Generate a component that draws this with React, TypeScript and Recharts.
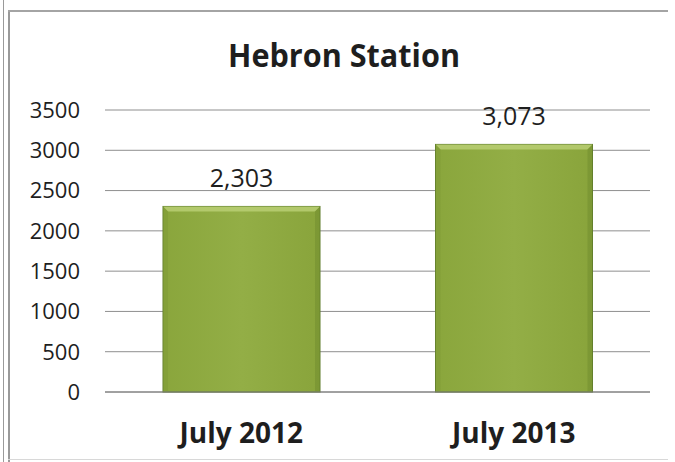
import { BarChart, Bar, XAxis, YAxis, CartesianGrid, LabelList, Customized } from "recharts";

const periods = ["July 2012", "July 2013"];
const riders = [2303, 3073];
const yTicks = [0, 500, 1000, 1500, 2000, 2500, 3000, 3500];
const chartTitle = "Hebron Station";

const data = periods.map((period, i) => ({ period, riders: riders[i] }));

const FONT = "'Open Sans', 'DejaVu Sans', sans-serif";

// bevelled olive bar, like the old Excel preset
const BevelBar = (props: any) => {
  const { x, y, width, height } = props;
  if (!height || height <= 0) return null;
  const b = 5;
  return (
    <g>
      <rect x={x} y={y} width={width} height={height} fill="url(#barFill)" stroke="#5f7d2b" strokeWidth={1} />
      <polygon
        points={`${x},${y} ${x + width},${y} ${x + width - b},${y + b} ${x + b},${y + b}`}
        fill="#bcd177"
        opacity={0.8}
      />
      <polygon
        points={`${x},${y} ${x + b},${y + b} ${x + b},${y + height} ${x},${y + height}`}
        fill="#7e9a36"
        opacity={0.5}
      />
      <polygon
        points={`${x + width},${y} ${x + width - b},${y + b} ${x + width - b},${y + height} ${x + width},${y + height}`}
        fill="#6f8b2e"
        opacity={0.5}
      />
    </g>
  );
};

const Title = () => (
  <text
    x={344}
    y={67}
    textAnchor="middle"
    fontFamily={FONT}
    fontWeight={700}
    fontSize={33}
    fill="#1e1e1e"
    textLength={232}
    lengthAdjust="spacingAndGlyphs"
  >
    {chartTitle}
  </text>
);

export default function App() {
  return (
    <div style={{ position: "absolute", left: 0, top: 0, width: 675, height: 462, background: "#fff" }}>
      <div style={{ position: "absolute", left: 3, top: 0, width: 1, height: 462, background: "#9a9a9a" }} />
      <div style={{ position: "absolute", left: 8, top: 10, width: 2, height: 452, background: "#9a9a9a" }} />
      <div style={{ position: "absolute", left: 8, top: 10, width: 660, height: 2, background: "#a4a4a4" }} />
      <div style={{ position: "absolute", left: 8, top: 459, width: 660, height: 1, background: "#d8d8d8" }} />
      <BarChart
        width={675}
        height={462}
        data={data}
        margin={{ top: 110, right: 25, bottom: 0, left: 0 }}
        barCategoryGap={58}
        style={{ position: "absolute", left: 0, top: 0 }}
      >
        <defs>
          <linearGradient id="barFill" x1="0" y1="0" x2="1" y2="0">
            <stop offset="0%" stopColor="#8aa63c" />
            <stop offset="50%" stopColor="#93ae46" />
            <stop offset="100%" stopColor="#89a43b" />
          </linearGradient>
        </defs>
        <CartesianGrid vertical={false} stroke="#8e8e8e" strokeWidth={1} />
        <XAxis
          dataKey="period"
          height={70}
          tickLine={false}
          axisLine={{ stroke: "#7a7a7a" }}
          tickSize={0}
          tickMargin={31}
          tick={{ fontFamily: FONT, fontWeight: 700, fontSize: 28, fill: "#1e1e1e" }}
        />
        <YAxis
          width={105}
          domain={[0, 3500]}
          ticks={yTicks}
          axisLine={false}
          tickLine={false}
          tickSize={0}
          tickMargin={25}
          tick={{ fontFamily: FONT, fontSize: 22, fill: "#1e1e1e" }}
        />
        <Bar dataKey="riders" shape={BevelBar} isAnimationActive={false}>
          <LabelList
            dataKey="riders"
            position="top"
            offset={19}
            fontFamily={FONT}
            fontSize={25}
            fill="#1e1e1e"
            formatter={(v: any) => Number(v).toLocaleString("en-US")}
          />
        </Bar>
        <Customized component={Title} />
      </BarChart>
    </div>
  );
}
